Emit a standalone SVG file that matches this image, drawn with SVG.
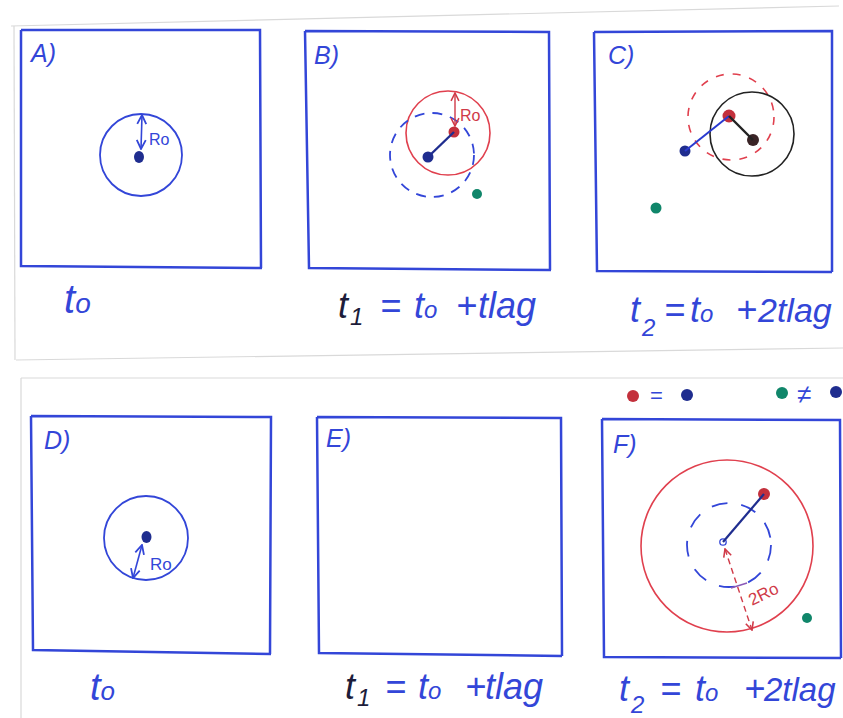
<svg xmlns="http://www.w3.org/2000/svg" width="843" height="718" viewBox="0 0 843 718">
<defs>
<style>
.frame{fill:none;stroke:#3346d8;stroke-width:2.5}
.scan{fill:none;stroke:#d9d9d9;stroke-width:1.2}
.lbl{font-family:"Liberation Sans",Arial,sans-serif;font-style:italic;fill:#3346d8}
.plbl{font-size:25px}
.tl{font-size:36px}
.sub{font-size:24px}
.ro{font-size:16px;font-style:normal}
.dk{fill:#1c1c3a}
.bc{fill:none;stroke:#3346d8;stroke-width:1.8}
.bcd{fill:none;stroke:#3346d8;stroke-width:1.8;stroke-dasharray:10 8}
.rc{fill:none;stroke:#e0404e;stroke-width:1.6}
.rcd{fill:none;stroke:#e0404e;stroke-width:1.6;stroke-dasharray:8 9}
.kc{fill:none;stroke:#222;stroke-width:1.6}
.navy{fill:#1f2d8f}
.red{fill:#c3303c}
.green{fill:#10866a}
.dark{fill:#3a2426}
</style>
<marker id="hb" viewBox="0 0 10 10" refX="9" refY="5" markerWidth="7" markerHeight="7" orient="auto-start-reverse"><path d="M1,1 L9,5 L1,9" fill="none" stroke="#3346d8" stroke-width="1.6"/></marker>
<marker id="hr" viewBox="0 0 10 10" refX="9" refY="5" markerWidth="7" markerHeight="7" orient="auto-start-reverse"><path d="M1,1 L9,5 L1,9" fill="none" stroke="#d03a48" stroke-width="1.6"/></marker>
</defs>
<rect width="843" height="718" fill="#ffffff"/>
<g id="scan-edges">
<path class="scan" d="M11,26 L839,6"/>
<path class="scan" d="M14,26 L15,360"/>
<path class="scan" d="M16,360 L843,348"/>
<path class="scan" d="M21,378 L843,378"/>
<path class="scan" d="M21,378 L21,718"/>
</g>
<g id="panel-A">
<path class="frame" d="M21,30 L260,30 L261,268 M21,30 L21,266 L262,268"/>
<text class="lbl plbl" x="31" y="62">A)</text>
<circle class="bc" cx="141" cy="155" r="41"/>
<ellipse class="navy" cx="139" cy="157" rx="5" ry="6"/>
<text class="lbl ro" x="149" y="145">Ro</text>
<text class="lbl tl" x="64" y="313" style="font-size:40px">t<tspan class="sub" style="font-size:28px">o</tspan></text>
</g>
<g id="panel-B">
<path class="frame" d="M305,31 L549,32 L550,270 M305,31 L309,268 L551,270"/>
<text class="lbl plbl" x="314" y="64">B)</text>
<circle class="rc" cx="448" cy="133" r="42"/>
<circle class="bcd" cx="432" cy="155" r="42"/>
<circle class="navy" cx="428" cy="157" r="5.5"/>
<circle class="red" cx="454" cy="132" r="5.5"/>
<circle class="green" cx="477" cy="194" r="5"/>
<text class="lbl ro" x="460" y="121" style="fill:#d03a48">Ro</text>
<text class="lbl tl" y="318"><tspan x="338" class="dk">t</tspan><tspan class="sub dk" x="350" dy="7">1</tspan><tspan x="380" dy="-7">=</tspan><tspan x="414">t</tspan><tspan class="sub">o</tspan><tspan x="456">+</tspan><tspan x="478">tlag</tspan></text>
</g>
<g id="panel-C">
<path class="frame" d="M594,32 L832,31 L832,272 M594,32 L597,271 L832,272"/>
<text class="lbl plbl" x="608" y="64">C)</text>
<circle class="rcd" cx="731" cy="117" r="43"/>
<circle class="kc" cx="752" cy="134" r="42"/>
<circle class="navy" cx="685" cy="151" r="5.5"/>
<circle class="red" cx="729" cy="116" r="6.5"/>
<circle class="dark" cx="753" cy="140" r="6"/>
<circle class="green" cx="656" cy="208" r="5.5"/>
<text class="lbl tl" y="322"><tspan x="630">t</tspan><tspan class="sub" x="642" dy="14">2</tspan><tspan x="664" dy="-14">=</tspan><tspan x="690">t</tspan><tspan class="sub">o</tspan><tspan x="736">+</tspan><tspan x="758" style="font-size:34px">2tlag</tspan></text>
</g>
<g id="legend">
<circle class="red" cx="633" cy="396" r="6"/>
<text class="lbl" x="650" y="403" style="font-size:22px;font-style:normal">=</text>
<circle class="navy" cx="687" cy="395" r="6"/>
<circle class="green" cx="782" cy="393" r="6"/>
<text class="lbl" x="797" y="403" style="font-size:26px;font-style:normal">≠</text>
<circle class="navy" cx="836" cy="392" r="6"/>
</g>
<g id="panel-D">
<path class="frame" d="M31,416 L271,417 L270,654 M31,416 L33,650 L271,654"/>
<text class="lbl plbl" x="44" y="449">D)</text>
<circle class="bc" cx="146" cy="538" r="42"/>
<ellipse class="navy" cx="146.5" cy="537" rx="5" ry="6"/>
<text class="lbl ro" x="150" y="570" style="font-size:17px">Ro</text>
<text class="lbl tl" x="90" y="700" style="font-size:38px">t<tspan class="sub" style="font-size:26px">o</tspan></text>
</g>
<g id="panel-E">
<path class="frame" d="M317,417 L561,418 L562,656 M317,417 L319,653 L562,656"/>
<text class="lbl plbl" x="326" y="447">E)</text>
<text class="lbl tl" y="699"><tspan x="345" class="dk">t</tspan><tspan class="sub dk" x="357" dy="7">1</tspan><tspan x="385" dy="-7">=</tspan><tspan x="418">t</tspan><tspan class="sub">o</tspan><tspan x="465">+</tspan><tspan x="485">tlag</tspan></text>
</g>
<g id="panel-F">
<path class="frame" d="M602,419 L840,420 L841,658 M602,419 L604,657 L841,658"/>
<text class="lbl plbl" x="613" y="453">F)</text>
<circle class="rc" cx="727" cy="546" r="86"/>
<circle class="bcd" cx="729" cy="545" r="42" style="stroke-dasharray:16 14"/>
<circle cx="723" cy="542" r="3.2" fill="#fff" stroke="#3346d8" stroke-width="1.3"/>
<circle class="red" cx="764" cy="494" r="6"/>
<circle class="green" cx="807" cy="618" r="5"/>
<text class="lbl ro" x="752" y="606" transform="rotate(-26 752 606)" style="font-size:17px;fill:#d03a48">2Ro</text>
<text class="lbl tl" y="701"><tspan x="619">t</tspan><tspan class="sub" x="631" dy="12">2</tspan><tspan x="660" dy="-12">=</tspan><tspan x="695">t</tspan><tspan class="sub">o</tspan><tspan x="744">+</tspan><tspan x="764" style="font-size:33px">2tlag</tspan></text>
</g>
<g id="connectors">
<path d="M141,149 L142,115" stroke="#3346d8" stroke-width="1.6" fill="none" marker-start="url(#hb)" marker-end="url(#hb)"/>
<path d="M428,157 L454,132" stroke="#1f2d8f" stroke-width="2.4"/>
<path d="M455,126 L455,93" stroke="#d03a48" stroke-width="1.4" fill="none" marker-start="url(#hr)" marker-end="url(#hr)"/>
<path d="M685,151 L729,116" stroke="#2a3ad0" stroke-width="2"/>
<path d="M729,116 L753,140" stroke="#222" stroke-width="2.4"/>
<path d="M142,545 L133,578" stroke="#3346d8" stroke-width="1.6" fill="none" marker-start="url(#hb)" marker-end="url(#hb)"/>
<path d="M723,542 L764,494" stroke="#1f2d8f" stroke-width="2.2"/>
<path d="M725,549 L752,630" stroke="#d03a48" stroke-width="1.4" stroke-dasharray="6 4" fill="none" marker-start="url(#hr)" marker-end="url(#hr)"/>
<path d="M731,588 L747,583" stroke="#8a5ab8" stroke-width="1.6"/>
</g>
</svg>
